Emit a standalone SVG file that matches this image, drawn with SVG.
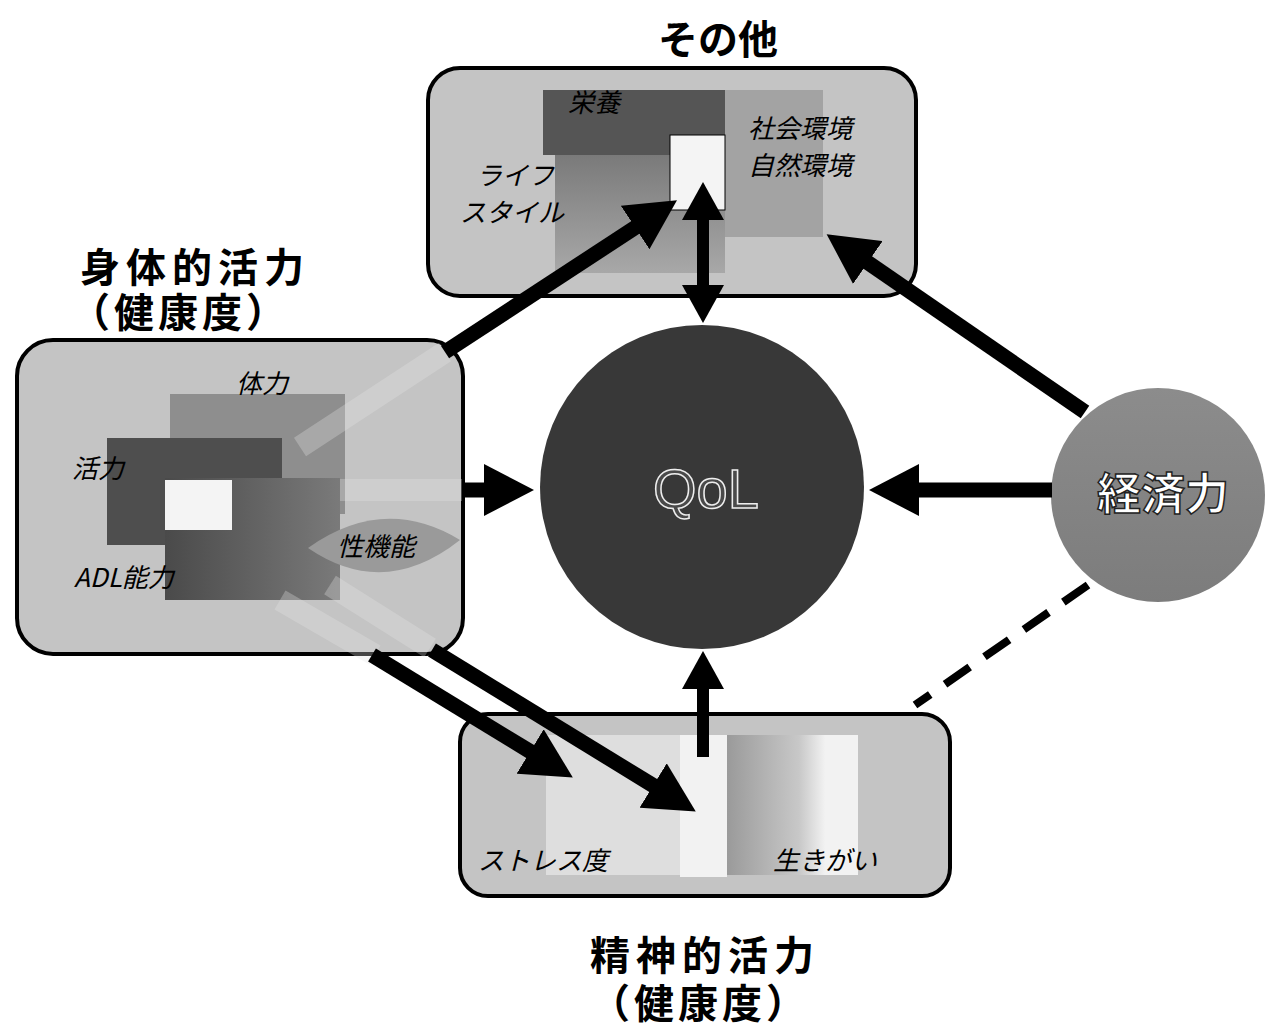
<svg xmlns="http://www.w3.org/2000/svg" width="1266" height="1032" viewBox="0 0 1266 1032">
<style>
.box{fill:#c4c4c4;stroke:#000;stroke-width:4}
.title{font-family:"Noto Sans CJK JP","Noto Sans",sans-serif;font-weight:bold;font-size:40px;fill:#000;text-anchor:middle}
.lbl{font-family:"Noto Sans CJK JP","Noto Sans",sans-serif;font-style:italic;font-size:26px;fill:#000}
.arrow{stroke:#000;stroke-width:15;fill:none}
.arrow-s{stroke:#000;stroke-width:12;fill:none}
</style>
<defs>
<marker id="big" markerUnits="userSpaceOnUse" viewBox="0 0 50 52" markerWidth="50" markerHeight="52" refX="1" refY="26" orient="auto-start-reverse">
<path d="M0,0 L50,26 L0,52 z" fill="#000"/>
</marker>
<marker id="small" markerUnits="userSpaceOnUse" viewBox="0 0 38 42" markerWidth="38" markerHeight="42" refX="1" refY="21" orient="auto-start-reverse">
<path d="M0,0 L38,21 L0,42 z" fill="#000"/>
</marker>
<linearGradient id="gAdl" x1="0" y1="0" x2="1" y2="0">
<stop offset="0" stop-color="#4a4a4a"/><stop offset="1" stop-color="#7a7a7a"/>
</linearGradient>
<linearGradient id="gLife" x1="0" y1="0" x2="0" y2="1">
<stop offset="0" stop-color="#7a7a7a"/><stop offset="1" stop-color="#a8a8a8"/>
</linearGradient>
<linearGradient id="gIki" x1="0" y1="0" x2="1" y2="0">
<stop offset="0" stop-color="#9a9a9a"/><stop offset="0.55" stop-color="#c8c8c8"/><stop offset="0.75" stop-color="#f2f2f2"/><stop offset="1" stop-color="#f2f2f2"/>
</linearGradient>
<linearGradient id="gEco" x1="0" y1="0" x2="0" y2="1">
<stop offset="0" stop-color="#8c8c8c"/><stop offset="1" stop-color="#7c7c7c"/>
</linearGradient>
</defs>
<rect width="1266" height="1032" fill="#fff"/>

<g id="node-sonota">
<text class="title" x="718" y="54">その他</text>
<rect class="box" x="428" y="68" width="488" height="228" rx="32"/>
<rect x="543" y="90" width="182" height="65" fill="#555"/>
<rect x="555" y="155" width="170" height="118" fill="url(#gLife)"/>
<rect x="725" y="90" width="98" height="147" fill="#a3a3a3"/>
<rect x="670" y="135" width="55" height="75" fill="#f4f4f4" stroke="#000" stroke-width="1"/>
<text class="lbl" x="568" y="112">栄養</text>
<text class="lbl" x="476" y="185">ライフ</text>
<text class="lbl" x="460" y="222">スタイル</text>
<text class="lbl" x="748" y="138" font-size="28">社会環境</text>
<text class="lbl" x="748" y="175" font-size="28">自然環境</text>
</g>

<g id="node-shintai">
<text class="title" x="195" y="282" letter-spacing="6">身体的活力</text>
<text class="title" x="180" y="327" letter-spacing="4">（健康度）</text>
<rect class="box" x="17" y="340" width="446" height="314" rx="36"/>
<rect x="170" y="394" width="175" height="120" fill="#8e8e8e"/>
<rect x="107" y="438" width="175" height="107" fill="#4e4e4e"/>
<rect x="165" y="478" width="175" height="122" fill="url(#gAdl)"/>
<rect x="165" y="480" width="67" height="50" fill="#f4f4f4"/>
<path d="M308,548 Q384,494 460,540 Q384,600 308,548 z" fill="#9a9a9a"/>
<text class="lbl" x="236" y="393" font-size="28">体力</text>
<text class="lbl" x="72" y="478" font-size="28">活力</text>
<text class="lbl" x="74" y="587" font-size="27">ADL能力</text>
<text class="lbl" x="337" y="556" font-size="29">性機能</text>
</g>

<g id="node-seishin">
<rect class="box" x="460" y="714" width="490" height="182" rx="28"/>
<rect x="546" y="735" width="150" height="140" fill="#dedede"/>
<rect x="680" y="735" width="47" height="142" fill="#f2f2f2"/>
<rect x="727" y="735" width="131" height="140" fill="url(#gIki)"/>
<text class="lbl" x="478" y="870">ストレス度</text>
<text class="lbl" x="773" y="870">生きがい</text>
<text class="title" x="705" y="970" letter-spacing="6">精神的活力</text>
<text class="title" x="700" y="1018" letter-spacing="4">（健康度）</text>
</g>

<g id="node-qol">
<circle cx="702" cy="487" r="162" fill="#383838"/>
<text x="706" y="508" font-family="Liberation Sans, Arial, sans-serif" font-size="56" fill="#4a4a4a" stroke="#eee" stroke-width="1.5" text-anchor="middle">QoL</text>
</g>

<g id="node-keizai">
<circle cx="1158" cy="495" r="107" fill="url(#gEco)"/>
<text x="1163" y="510" font-family="Noto Sans CJK JP, sans-serif" font-weight="bold" font-size="44" fill="#fff" stroke="#222" stroke-width="1.5" text-anchor="middle">経済力</text>
</g>

<g id="connectors">
<g opacity="0.3" stroke="#e6e6e6" stroke-width="22" fill="none">
<line x1="300" y1="447" x2="445" y2="352"/>
<line x1="340" y1="490" x2="462" y2="490"/>
<line x1="280" y1="600" x2="375" y2="655"/>
<line x1="330" y1="585" x2="430" y2="648"/>
</g>
<line class="arrow" x1="445" y1="352" x2="636" y2="227" marker-end="url(#big)"/>
<line class="arrow-s" x1="703" y1="219" x2="703" y2="286" marker-start="url(#small)" marker-end="url(#small)"/>
<line class="arrow" x1="1085" y1="412" x2="867" y2="262" marker-end="url(#big)"/>
<line class="arrow" x1="1052" y1="490" x2="918" y2="490" marker-end="url(#big)"/>
<line class="arrow" x1="462" y1="490" x2="485" y2="490" marker-end="url(#big)"/>
<line class="arrow-s" x1="703" y1="757" x2="703" y2="688" marker-end="url(#small)"/>
<line class="arrow" x1="372" y1="655" x2="531" y2="752" marker-end="url(#big)"/>
<line class="arrow" x1="432" y1="650" x2="654" y2="786" marker-end="url(#big)"/>
<line x1="1088" y1="585" x2="915" y2="705" stroke="#000" stroke-width="8" stroke-dasharray="30 18"/>
</g>
</svg>
